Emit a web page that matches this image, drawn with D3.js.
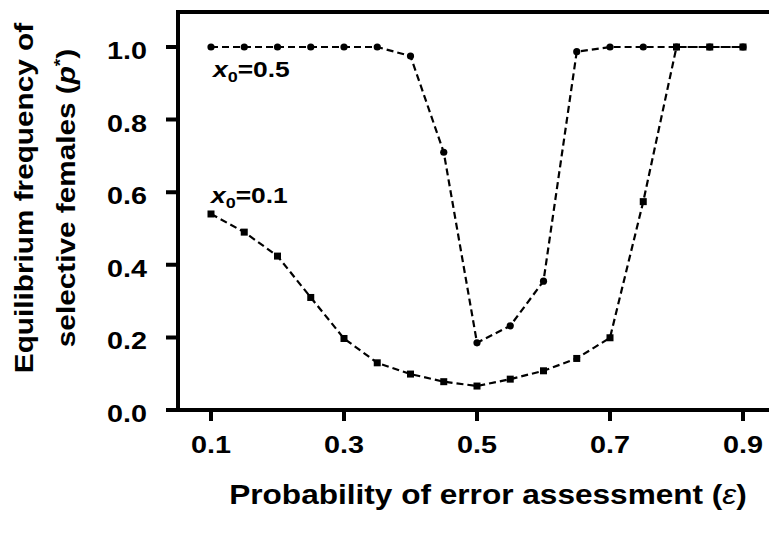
<!DOCTYPE html>
<html>
<head>
<meta charset="utf-8">
<script src="https://cdn.jsdelivr.net/npm/d3@7"></script>
<style>
  body { margin: 0; background: #fff; }
  svg { display: block; }
  text { font-family: "Liberation Sans", Arial, sans-serif; font-weight: bold; fill: #000; }
</style>
</head>
<body>
<svg width="769" height="535"></svg>
<script>
//*
//* Data
//*

var eps = [0.1, 0.15, 0.2, 0.25, 0.3, 0.35, 0.4, 0.45, 0.5, 0.55, 0.6, 0.65, 0.7, 0.75, 0.8, 0.85, 0.9];
var pX05 = [1.0, 1.0, 1.0, 1.0, 1.0, 1.0, 0.975, 0.71, 0.185, 0.232, 0.355, 0.987, 1.0, 1.0, 1.0, 1.0, 1.0];
var pX01 = [0.54, 0.49, 0.424, 0.31, 0.197, 0.13, 0.099, 0.078, 0.066, 0.085, 0.108, 0.142, 0.199, 0.574, 1.0, 1.0, 1.0];
var xTicks = [0.1, 0.3, 0.5, 0.7, 0.9];
var yTicks = [0.0, 0.2, 0.4, 0.6, 0.8, 1.0];

//*
//* Layout
//*

var svg = d3.select("svg");
var plotLeft = 178, plotRight = 769, plotTop = 12, plotBottom = 410;
var fmt = d3.format(".1f");

var x = d3.scaleLinear().domain([0.1, 0.9]).range([211, 743]);
var y = d3.scaleLinear().domain([0, 1]).range([plotBottom, 47]);

/* frame: top, left and bottom lines, with the tick marks in the same path */
var framePath = d3.path();
framePath.moveTo(plotRight, plotTop);
framePath.lineTo(plotLeft, plotTop);
framePath.lineTo(plotLeft, plotBottom);
framePath.lineTo(plotRight, plotBottom);
xTicks.forEach(function(d) {
	framePath.moveTo(x(d), plotBottom);
	framePath.lineTo(x(d), plotBottom + 11);
});
yTicks.forEach(function(d) {
	framePath.moveTo(plotLeft, y(d));
	framePath.lineTo(plotLeft - 12, y(d));
});
svg.append("path")
	.attr("d", framePath.toString())
	.attr("fill", "none")
	.attr("stroke", "#000")
	.attr("stroke-width", 4);

/* tick labels */
svg.selectAll("text.xlab")
	.data(xTicks)
	.enter()
	.append("text")
	.attr("class", "xlab")
	.attr("text-anchor", "middle")
	.attr("transform", function(d) { return "translate(" + x(d) + "," + (plotBottom + 43) + ") scale(1.2,1)"; })
	.style("font-size", "24px")
	.text(fmt);

svg.selectAll("text.ylab")
	.data(yTicks)
	.enter()
	.append("text")
	.attr("class", "ylab")
	.attr("text-anchor", "end")
	.attr("transform", function(d) { return "translate(147," + (y(d) + 12) + ") scale(1.25,1)"; })
	.style("font-size", "23px")
	.text(fmt);

/* series */
var line = d3.line()
	.x(function(d) { return x(d[0]); })
	.y(function(d) { return y(d[1]); });

var s05 = eps.map(function(e, i) { return [e, pX05[i]]; });
var s01 = eps.map(function(e, i) { return [e, pX01[i]]; });

[s05, s01].forEach(function(s) {
	svg.append("path")
		.datum(s)
		.attr("d", line)
		.attr("fill", "none")
		.attr("stroke", "#000")
		.attr("stroke-width", 2.2)
		.attr("stroke-dasharray", "7,4");
});

svg.selectAll("rect.sq")
	.data(s01)
	.enter()
	.append("rect")
	.attr("class", "sq")
	.attr("x", function(d) { return x(d[0]) - 3.5; })
	.attr("y", function(d) { return y(d[1]) - 3.5; })
	.attr("width", 7)
	.attr("height", 7)
	.attr("fill", "#000");

svg.selectAll("circle.pt")
	.data(s05)
	.enter()
	.append("circle")
	.attr("class", "pt")
	.attr("cx", function(d) { return x(d[0]); })
	.attr("cy", function(d) { return y(d[1]); })
	.attr("r", 3.6)
	.attr("fill", "#000");

/* series labels */
function seriesLabel(tx, ty, value) {
	var t = svg.append("text")
		.attr("transform", "translate(" + tx + "," + ty + ") scale(1.2,1)")
		.style("font-size", "22px");
	t.append("tspan").style("font-style", "italic").text("x");
	t.append("tspan").attr("dy", 5).style("font-size", "15px").text("0");
	t.append("tspan").attr("dy", -5).text("=" + value);
}
seriesLabel(213, 77, "0.5");
seriesLabel(211, 203, "0.1");

/* axis titles */
var xt = svg.append("text")
	.attr("transform", "translate(488,504) scale(1.17,1)")
	.attr("text-anchor", "middle")
	.style("font-size", "27px");
xt.append("tspan").text("Probability of error assessment (");
xt.append("tspan").style("font-style", "italic").style("font-weight", "normal").text("ε");
xt.append("tspan").text(")");

var yt = svg.append("text")
	.attr("transform", "translate(33,198) rotate(-90) scale(1.19,1)")
	.attr("text-anchor", "middle")
	.style("font-size", "25px");
yt.append("tspan").attr("x", 0).attr("y", 0).text("Equilibrium frequency of");
yt.append("tspan").attr("x", 0).attr("y", 42).text("selective females (");
yt.append("tspan").style("font-style", "italic").text("p");
yt.append("tspan").attr("dy", -9).style("font-size", "16px").text("*");
yt.append("tspan").attr("dy", 9).text(")");
</script>
</body>
</html>
